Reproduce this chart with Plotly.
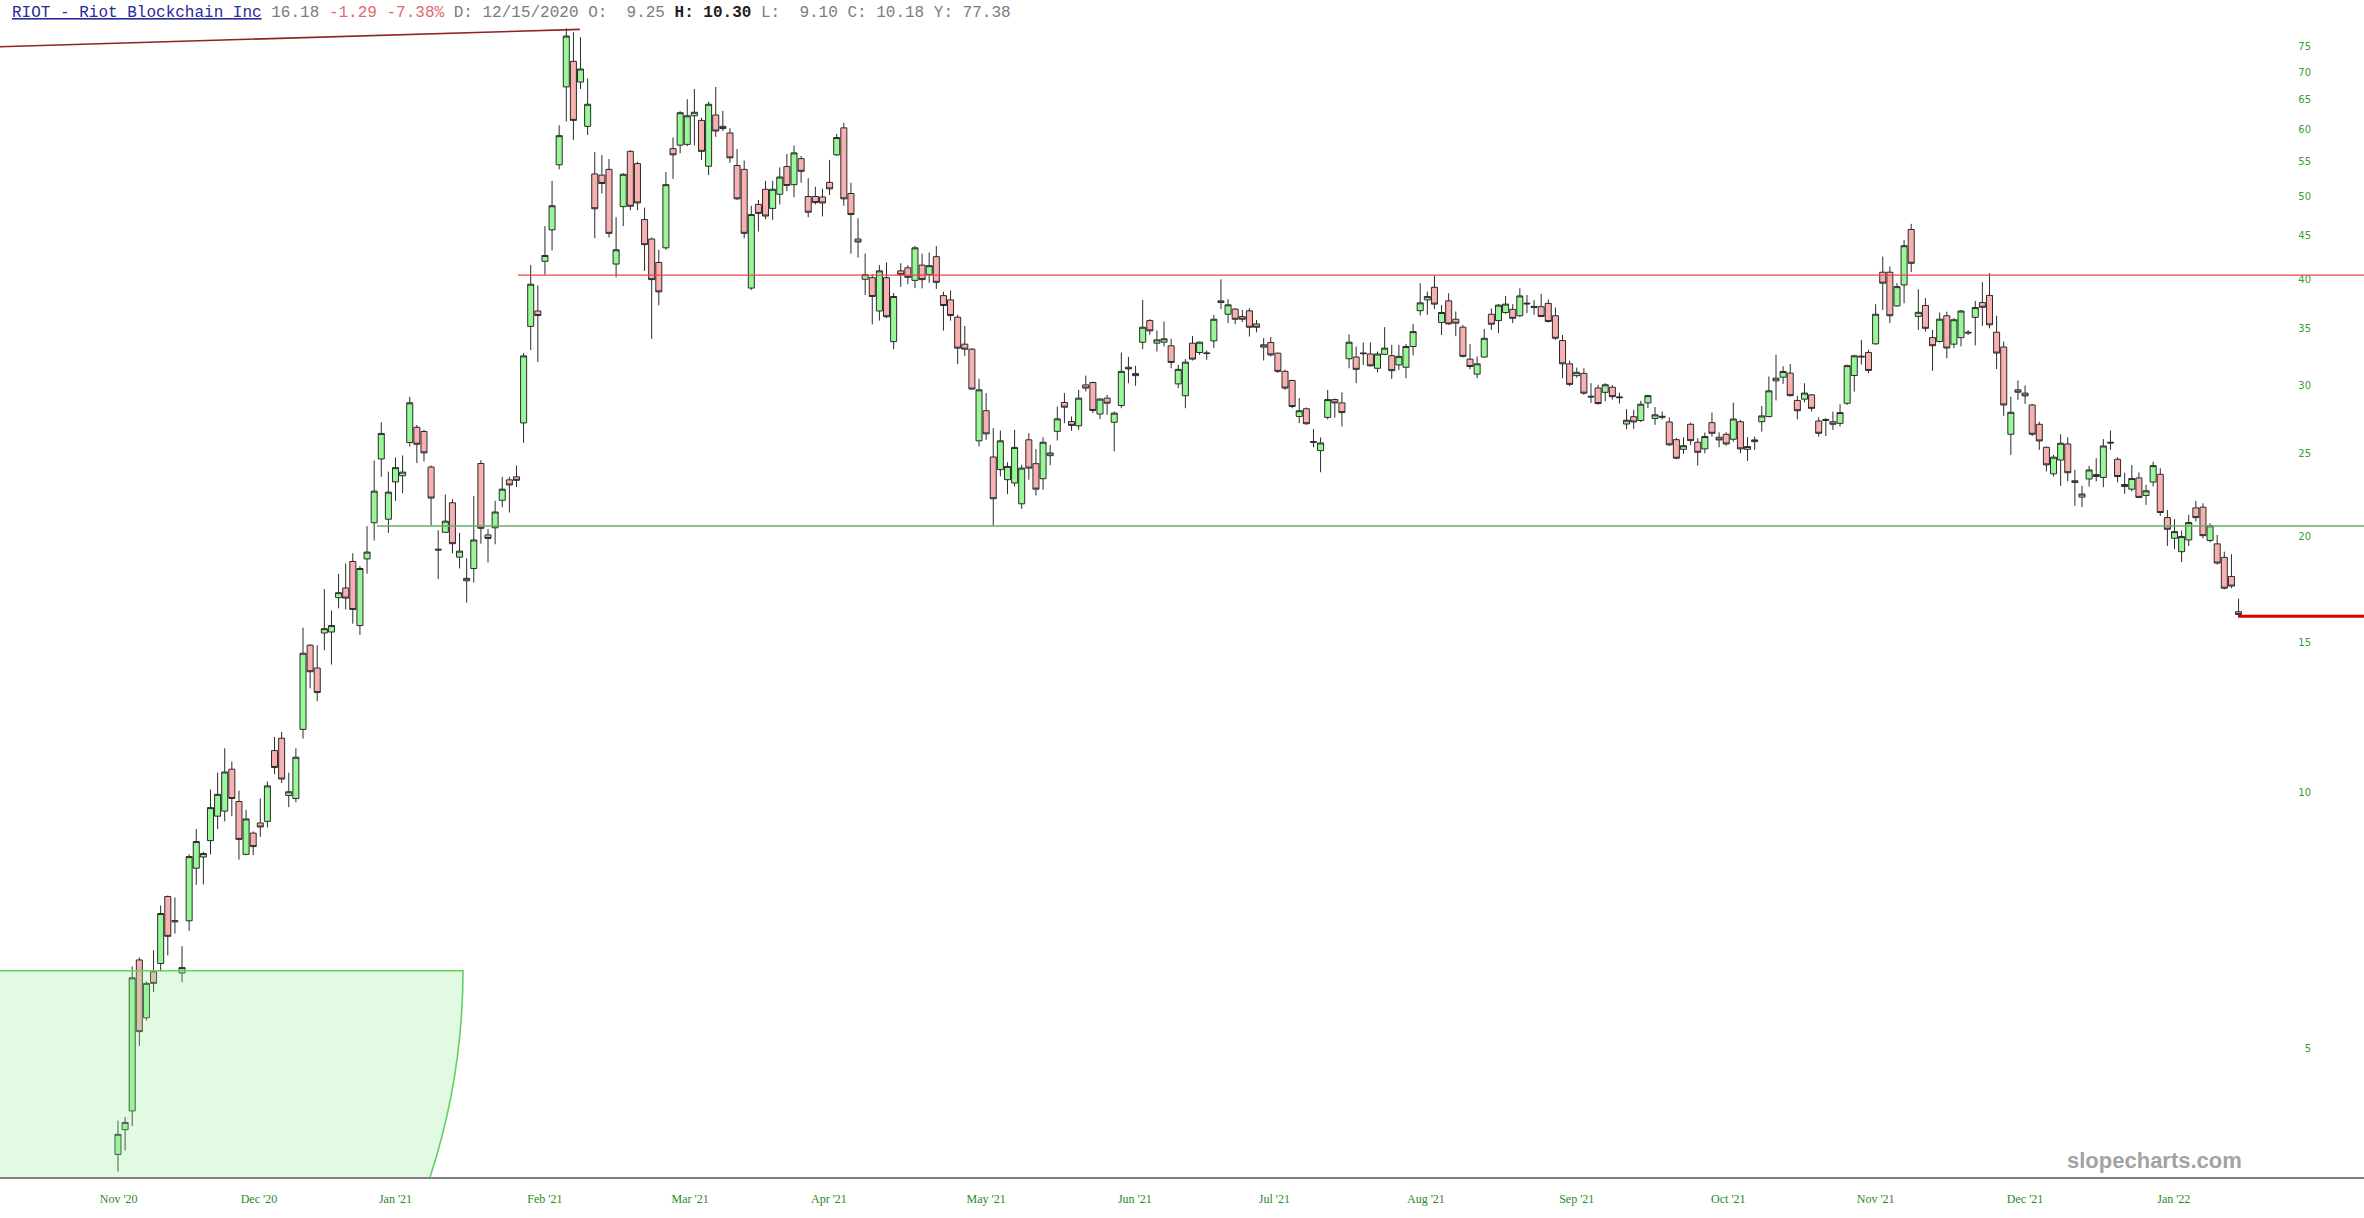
import plotly.graph_objects as go

# ---------------- data (daily OHLC, trading-day index 0 = 13 Nov 2020) ----------------
opens = [
    3.76, 4.02, 4.23, 6.36, 5.44, 6.16, 6.30, 7.55, 7.05, 6.14,
    7.07, 8.15, 8.40, 8.78, 9.38, 9.51, 10.65, 9.76, 8.46, 8.96,
    9.21, 9.25, 11.20, 11.58, 9.92, 9.84, 11.86, 14.89, 14.00, 15.39,
    15.43, 16.93, 17.38, 18.67, 15.70, 18.80, 20.73, 24.63, 20.93, 23.15,
    23.54, 25.75, 26.83, 26.53, 24.10, 19.30, 20.20, 21.88, 18.89, 17.72,
    18.32, 24.33, 20.06, 20.45, 22.03, 23.28, 23.47, 27.15, 35.25, 36.74,
    42.02, 45.75, 54.55, 67.33, 72.13, 68.21, 60.52, 53.21, 53.04, 53.87,
    41.71, 48.71, 56.56, 54.72, 47.04, 44.63, 41.89, 43.58, 56.97, 57.52,
    57.64, 62.27, 61.50, 54.33, 62.40, 60.52, 59.44, 54.44, 53.87, 39.09,
    49.00, 51.05, 48.48, 50.37, 54.28, 51.69, 55.46, 50.06, 50.06, 50.00,
    52.01, 56.03, 60.27, 50.47, 44.63, 40.03, 40.20, 36.74, 40.20, 33.82,
    40.95, 41.29, 39.91, 41.59, 40.55, 42.55, 38.30, 37.86, 36.13, 33.59,
    33.14, 25.87, 28.06, 24.76, 23.93, 23.29, 23.08, 21.82, 25.94, 24.32,
    23.35, 24.85, 26.54, 28.69, 27.25, 26.94, 30.09, 30.28, 27.81, 29.03,
    27.20, 28.46, 31.56, 31.02, 33.77, 35.80, 33.68, 33.77, 33.44, 30.17,
    29.22, 33.68, 32.84, 32.81, 33.89, 37.76, 36.42, 36.93, 36.19, 36.76,
    35.48, 33.32, 33.74, 32.78, 31.21, 30.45, 27.63, 28.21, 25.82, 25.19,
    27.56, 28.92, 28.66, 32.29, 32.44, 32.80, 32.71, 31.47, 32.68, 32.56,
    31.76, 31.56, 33.38, 36.77, 37.86, 39.17, 35.62, 37.76, 35.93, 35.17,
    32.26, 30.98, 32.44, 36.42, 35.80, 36.59, 36.90, 36.27, 37.53, 37.20,
    37.17, 37.50, 36.27, 33.92, 31.85, 30.85, 31.04, 29.18, 29.84, 29.49,
    29.90, 29.13, 27.07, 27.61, 27.33, 28.66, 27.48, 27.64, 27.22, 25.95,
    25.28, 27.05, 25.77, 25.31, 27.17, 26.12, 26.33, 25.98, 27.24, 25.28,
    25.81, 27.24, 27.62, 30.42, 30.72, 31.06, 28.85, 28.95, 29.29, 27.29,
    27.33, 27.24, 27.12, 28.63, 30.86, 32.52, 32.85, 33.62, 40.80, 40.80,
    37.25, 39.42, 45.80, 36.21, 37.29, 34.19, 33.83, 36.27, 33.59, 34.19,
    34.69, 36.11, 37.59, 38.32, 34.69, 33.33, 26.33, 29.69, 29.43, 28.50,
    27.05, 25.42, 23.66, 24.56, 25.65, 23.22, 22.22, 23.33, 23.61, 23.43,
    25.77, 24.61, 22.99, 22.70, 23.40, 22.32, 23.14, 23.63, 21.02, 19.88,
    19.17, 19.79, 21.58, 21.62, 19.76, 19.58, 18.88, 17.93, 16.30,
]
highs = [
    4.12, 4.16, 6.25, 6.40, 6.00, 6.53, 7.37, 7.57, 7.53, 6.60,
    8.46, 9.06, 8.52, 10.08, 10.55, 11.27, 10.87, 10.05, 9.54, 9.00,
    9.84, 10.30, 11.62, 11.78, 10.55, 11.27, 15.61, 14.93, 14.89, 17.33,
    16.35, 18.06, 18.57, 19.09, 18.44, 20.54, 24.53, 27.20, 23.80, 24.73,
    24.87, 29.14, 27.00, 26.65, 24.20, 20.31, 22.37, 22.10, 20.17, 18.83,
    22.28, 24.55, 20.37, 22.00, 23.47, 23.47, 24.20, 32.80, 41.59, 39.37,
    46.22, 52.23, 60.68, 78.86, 78.05, 76.99, 68.85, 56.44, 55.98, 55.40,
    47.34, 53.32, 56.73, 55.00, 48.58, 44.81, 43.35, 53.48, 58.71, 63.05,
    65.11, 66.95, 61.95, 64.70, 67.33, 63.11, 60.21, 56.91, 55.17, 48.83,
    49.60, 52.23, 52.23, 54.16, 56.15, 57.47, 55.86, 52.60, 51.41, 51.13,
    55.28, 59.32, 61.09, 51.96, 47.19, 42.90, 40.61, 41.59, 41.89, 38.57,
    41.80, 41.59, 43.80, 42.90, 43.03, 43.79, 38.72, 38.82, 36.36, 35.29,
    33.23, 30.59, 29.43, 26.77, 26.60, 24.41, 26.65, 24.25, 26.41, 25.30,
    26.12, 25.59, 28.38, 29.43, 27.63, 29.69, 30.85, 30.36, 29.03, 29.29,
    28.00, 32.84, 32.44, 31.68, 37.86, 35.93, 34.85, 35.71, 34.08, 31.77,
    32.26, 34.35, 33.83, 33.02, 36.36, 40.02, 37.93, 37.03, 36.86, 37.03,
    35.86, 34.15, 34.25, 32.84, 31.35, 30.51, 29.03, 28.31, 26.70, 26.10,
    29.68, 29.00, 29.49, 34.49, 33.38, 33.74, 33.74, 32.92, 35.17, 33.53,
    33.53, 33.59, 35.48, 39.60, 38.72, 40.41, 37.33, 38.55, 36.69, 35.38,
    33.59, 32.50, 34.98, 37.00, 37.43, 38.27, 37.43, 39.07, 38.37, 37.83,
    38.48, 37.90, 37.10, 34.43, 32.14, 31.53, 31.47, 30.23, 30.10, 30.23,
    30.07, 29.47, 28.18, 28.13, 28.82, 29.29, 28.34, 28.00, 27.56, 26.07,
    26.12, 27.17, 26.05, 26.45, 27.92, 26.47, 26.47, 28.68, 27.37, 26.12,
    26.17, 28.42, 30.78, 32.64, 31.64, 31.84, 29.21, 30.22, 29.35, 27.57,
    27.50, 27.99, 28.55, 31.78, 32.64, 33.98, 33.09, 37.42, 42.56, 41.44,
    39.61, 44.50, 46.50, 38.96, 38.05, 34.90, 36.58, 36.67, 36.04, 36.84,
    34.90, 37.76, 39.72, 40.69, 36.27, 33.83, 29.15, 30.45, 30.03, 28.58,
    27.24, 25.47, 24.90, 26.33, 26.11, 23.91, 22.90, 24.17, 24.68, 25.99,
    26.59, 24.75, 23.73, 24.23, 23.75, 22.97, 24.45, 24.02, 21.46, 20.93,
    20.30, 21.18, 21.99, 21.85, 20.70, 20.06, 19.17, 19.04, 16.88,
]
lows = [
    3.59, 3.80, 4.06, 5.04, 5.40, 5.83, 6.16, 6.44, 6.83, 5.99,
    6.88, 7.79, 7.80, 8.46, 9.06, 9.25, 9.38, 8.34, 8.44, 8.44,
    8.87, 9.10, 10.51, 10.26, 9.61, 9.74, 11.57, 13.25, 12.80, 14.69,
    14.13, 16.45, 16.40, 15.78, 15.31, 18.06, 19.76, 23.47, 20.17, 22.00,
    22.46, 25.47, 24.36, 24.46, 20.59, 17.81, 20.17, 19.09, 18.32, 16.70,
    17.64, 19.59, 18.62, 19.56, 21.61, 21.31, 22.83, 25.73, 33.06, 32.01,
    40.53, 43.26, 53.87, 61.33, 58.35, 66.95, 59.13, 44.72, 50.47, 44.81,
    40.24, 46.22, 48.23, 48.23, 40.95, 34.07, 37.31, 43.35, 52.50, 56.27,
    57.35, 57.47, 55.28, 53.04, 58.82, 59.75, 54.84, 49.60, 44.72, 38.89,
    45.56, 47.09, 46.99, 49.00, 50.79, 49.96, 51.96, 47.34, 49.00, 47.44,
    50.26, 55.86, 48.83, 42.90, 42.46, 38.37, 35.43, 35.80, 36.06, 33.13,
    39.21, 39.50, 39.09, 39.06, 39.66, 38.99, 34.85, 35.80, 31.82, 32.54,
    29.69, 25.48, 25.94, 20.57, 23.50, 22.40, 22.87, 21.52, 23.29, 22.32,
    22.66, 24.21, 25.89, 27.13, 26.58, 26.65, 29.56, 27.88, 27.43, 27.75,
    25.14, 28.25, 30.22, 30.02, 33.14, 34.45, 32.93, 33.38, 31.47, 29.83,
    28.25, 32.14, 32.63, 32.20, 33.23, 36.93, 35.55, 35.45, 35.65, 34.29,
    34.68, 32.14, 32.49, 31.08, 29.69, 28.25, 27.13, 27.01, 25.42, 23.76,
    27.41, 27.54, 26.89, 31.47, 30.23, 31.76, 31.62, 31.13, 32.62, 30.58,
    31.33, 30.64, 32.59, 36.30, 36.36, 36.93, 34.43, 35.38, 34.32, 32.40,
    31.38, 30.64, 32.41, 34.91, 34.60, 36.46, 35.55, 36.14, 36.52, 36.36,
    36.14, 35.62, 33.98, 30.64, 29.99, 30.69, 29.29, 28.66, 28.53, 28.79,
    28.92, 28.61, 26.70, 26.72, 27.22, 28.26, 27.01, 27.41, 25.51, 24.61,
    24.97, 25.58, 24.20, 25.01, 26.17, 25.42, 25.53, 25.81, 25.01, 24.50,
    25.24, 26.52, 27.57, 28.85, 30.17, 29.15, 27.42, 28.71, 27.99, 26.17,
    26.20, 26.64, 26.88, 28.50, 29.55, 31.78, 31.06, 33.53, 36.85, 35.55,
    37.18, 37.51, 40.80, 34.90, 34.75, 31.26, 33.74, 32.34, 33.24, 33.39,
    34.44, 33.48, 35.29, 35.06, 31.41, 27.67, 24.90, 28.90, 28.58, 26.21,
    25.24, 23.81, 23.49, 22.90, 23.18, 21.70, 21.62, 22.86, 23.18, 22.82,
    25.24, 23.12, 22.42, 22.56, 22.16, 21.76, 22.86, 21.12, 19.47, 19.30,
    18.64, 19.47, 20.80, 19.88, 19.67, 18.51, 17.32, 17.37, 16.05,
]
closes = [
    3.97, 4.10, 6.06, 5.24, 5.97, 5.97, 7.21, 6.78, 7.07, 6.23,
    8.41, 8.76, 8.48, 9.60, 9.95, 10.57, 9.84, 8.81, 9.31, 8.64,
    9.11, 10.18, 10.70, 10.37, 10.02, 11.00, 14.57, 13.86, 13.10, 15.57,
    15.70, 17.16, 16.91, 16.40, 18.32, 19.15, 22.58, 26.39, 22.52, 24.06,
    23.77, 28.67, 25.63, 25.04, 22.16, 19.26, 20.82, 19.59, 19.20, 17.84,
    19.79, 20.42, 19.87, 21.34, 22.70, 22.96, 23.25, 32.54, 39.50, 36.29,
    42.69, 48.83, 59.01, 77.24, 61.50, 70.66, 64.24, 48.43, 51.85, 45.32,
    43.35, 53.16, 48.76, 49.20, 43.95, 39.99, 38.69, 51.69, 56.03, 62.79,
    62.27, 62.86, 56.56, 64.24, 59.75, 60.15, 55.57, 49.75, 45.32, 47.68,
    47.83, 47.49, 51.05, 52.77, 51.58, 56.33, 53.59, 47.98, 49.25, 49.20,
    51.11, 58.71, 49.75, 47.68, 44.27, 40.53, 38.21, 40.95, 36.17, 38.21,
    40.53, 40.24, 43.58, 39.99, 41.53, 39.70, 37.29, 36.29, 33.23, 33.14,
    29.75, 29.69, 26.36, 22.12, 25.87, 24.14, 25.41, 24.03, 24.03, 22.70,
    25.77, 25.03, 27.45, 28.33, 26.97, 29.03, 29.83, 28.08, 28.96, 28.64,
    27.88, 31.21, 31.42, 30.85, 35.16, 34.82, 33.98, 34.08, 31.97, 31.38,
    32.00, 32.26, 33.77, 32.75, 35.93, 37.60, 37.36, 35.93, 35.93, 35.16,
    35.16, 33.53, 32.63, 31.21, 29.83, 28.38, 28.06, 27.09, 25.77, 25.72,
    28.92, 28.66, 27.92, 33.77, 31.38, 32.74, 31.68, 32.71, 33.23, 31.27,
    32.50, 33.38, 34.75, 37.56, 38.20, 37.43, 36.59, 35.48, 35.55, 32.50,
    31.62, 31.85, 34.13, 35.45, 37.33, 37.43, 36.02, 38.27, 37.46, 37.10,
    36.20, 35.71, 34.13, 31.85, 30.13, 31.13, 29.42, 29.13, 28.61, 30.10,
    29.15, 29.07, 27.35, 27.22, 28.56, 29.23, 27.75, 27.58, 25.59, 24.68,
    25.53, 25.88, 25.08, 26.17, 26.40, 25.93, 25.65, 27.44, 25.31, 25.47,
    25.93, 27.67, 29.61, 30.64, 31.20, 29.23, 28.06, 29.43, 28.24, 26.40,
    27.40, 27.05, 27.92, 31.70, 32.55, 32.46, 31.29, 36.42, 39.61, 36.27,
    39.24, 43.83, 41.80, 36.61, 35.06, 33.45, 35.94, 33.24, 35.88, 36.74,
    34.63, 37.08, 37.11, 35.39, 32.79, 28.50, 27.94, 29.50, 29.21, 26.33,
    25.86, 24.24, 24.75, 25.70, 23.73, 23.12, 22.40, 23.91, 23.49, 25.51,
    25.72, 23.49, 22.86, 23.36, 22.20, 22.60, 24.19, 21.31, 20.37, 20.24,
    19.97, 20.74, 21.02, 20.02, 20.56, 18.59, 17.37, 17.47, 16.18,
]
bar_index = list(range(len(closes)))

# month labels (positions on the trading-day index)
month_pos = [0.1, 19.8, 39.0, 60.0, 80.4, 99.9, 122.0, 142.9, 162.5, 183.8,
             205.0, 226.3, 247.0, 268.0, 288.9]
month_labels = ["Nov '20", "Dec '20", "Jan '21", "Feb '21", "Mar '21", "Apr '21",
                "May '21", "Jun '21", "Jul '21", "Aug '21", "Sep '21", "Oct '21",
                "Nov '21", "Dec '21", "Jan '22"]
price_ticks = [5, 10, 15, 20, 25, 30, 35, 40, 45, 50, 55, 60, 65, 70, 75]

# drawn study lines
trend_x = [-16.6, 64.9]
trend_y = [75.05, 78.64]
resist_start, resist_level = 56.2, 40.49
support_start, support_level = 36.4, 20.55
last_level = 16.1

X_MIN, X_MAX = -16.58, 315.63
Y_MIN, Y_MAX = 0.54871, 1.93016   # log10 range

fig = go.Figure()

fig.add_trace(go.Candlestick(
    x=bar_index, open=opens, high=highs, low=lows, close=closes,
    increasing=dict(fillcolor="#98f898", line=dict(color="#2b2b2b", width=1)),
    decreasing=dict(fillcolor="#f8b0b0", line=dict(color="#2b2b2b", width=1)),
    whiskerwidth=0, hoverinfo="skip", showlegend=False,
))

fig.add_trace(go.Scatter(x=trend_x, y=trend_y, mode="lines",
                         line=dict(color="#8e2323", width=1.6),
                         hoverinfo="skip", showlegend=False))

shapes = [
    dict(type="line", xref="x", yref="y", x0=resist_start, x1=X_MAX,
         y0=resist_level, y1=resist_level, line=dict(color="#ee4444", width=1.2)),
    dict(type="line", xref="x", yref="y", x0=support_start, x1=X_MAX,
         y0=support_level, y1=support_level, line=dict(color="#6aaa6a", width=1.5)),
    dict(type="line", xref="x", yref="y", x0=bar_index[-1], x1=X_MAX,
         y0=last_level, y1=last_level, line=dict(color="#e00000", width=3)),
    # shaded study region (lower-left)
    dict(type="path", xref="paper", yref="paper", layer="above",
         path="M 0,0.17528 L 0.19585,0.17528 C 0.19585,0.11572 0.19112,0.05658 0.18194,0 L 0,0 Z",
         fillcolor="rgba(150,232,150,0.28)", line=dict(width=0)),
    dict(type="path", xref="paper", yref="paper", layer="above",
         path="M 0,0.17528 L 0.19585,0.17528 C 0.19585,0.11572 0.19112,0.05658 0.18194,0",
         line=dict(color="#62d062", width=1.6)),
]

header = ("<span style='color:#2a2a9c'><u>RIOT - Riot Blockchain Inc</u></span> "
          "<span style='color:#7c7c7c'>16.18</span> "
          "<span style='color:#e06a6a'>-1.29 -7.38%</span> "
          "<span style='color:#7c7c7c'>D: 12/15/2020 O:\u00a0 9.25</span> "
          "<span style='color:#1e1e1e'><b>H: 10.30</b></span> "
          "<span style='color:#7c7c7c'>L:\u00a0 9.10 C: 10.18 Y: 77.38</span>")

fig.update_layout(
    width=2364, height=1218,
    margin=dict(l=0, r=0, t=0, b=41),
    paper_bgcolor="white", plot_bgcolor="white",
    boxgap=0.08, boxgroupgap=0.08,
    hovermode=False,
    shapes=shapes,
    annotations=[
        dict(xref="paper", yref="paper", x=0.0042, y=0.9889, xanchor="left", yanchor="middle",
             text=header, showarrow=False, align="left",
             font=dict(family="Liberation Mono", size=16, color="#7c7c7c")),
        dict(xref="paper", yref="paper", x=0.9112, y=0.0144, xanchor="center", yanchor="middle",
             text="<b>slopecharts.com</b>", showarrow=False,
             font=dict(family="Liberation Sans", size=22, color="#a3a3a3")),
    ],
    xaxis=dict(range=[X_MIN, X_MAX], tickvals=month_pos, ticktext=month_labels,
               showgrid=False, zeroline=False, showline=True, linecolor="#808080", linewidth=2,
               ticks="", ticklabelstandoff=10,
               tickfont=dict(family="Liberation Serif", size=12, color="#1f8a1f"),
               rangeslider=dict(visible=False), fixedrange=True),
    yaxis=dict(type="log", range=[Y_MIN, Y_MAX], side="right",
               tickvals=price_ticks, ticktext=[str(v) for v in price_ticks],
               ticklabelposition="inside", ticklabelstandoff=50,
               showgrid=False, zeroline=False, showline=False, ticks="", fixedrange=True,
               tickfont=dict(family="DejaVu Sans", size=10, color="#3a9a3a")),
)

fig.write_html(
    "out.html",
    config={"displayModeBar": False, "staticPlot": True},
    post_script="document.body.style.margin='0';document.body.style.padding='0';"
                "document.body.style.overflow='hidden';",
)
